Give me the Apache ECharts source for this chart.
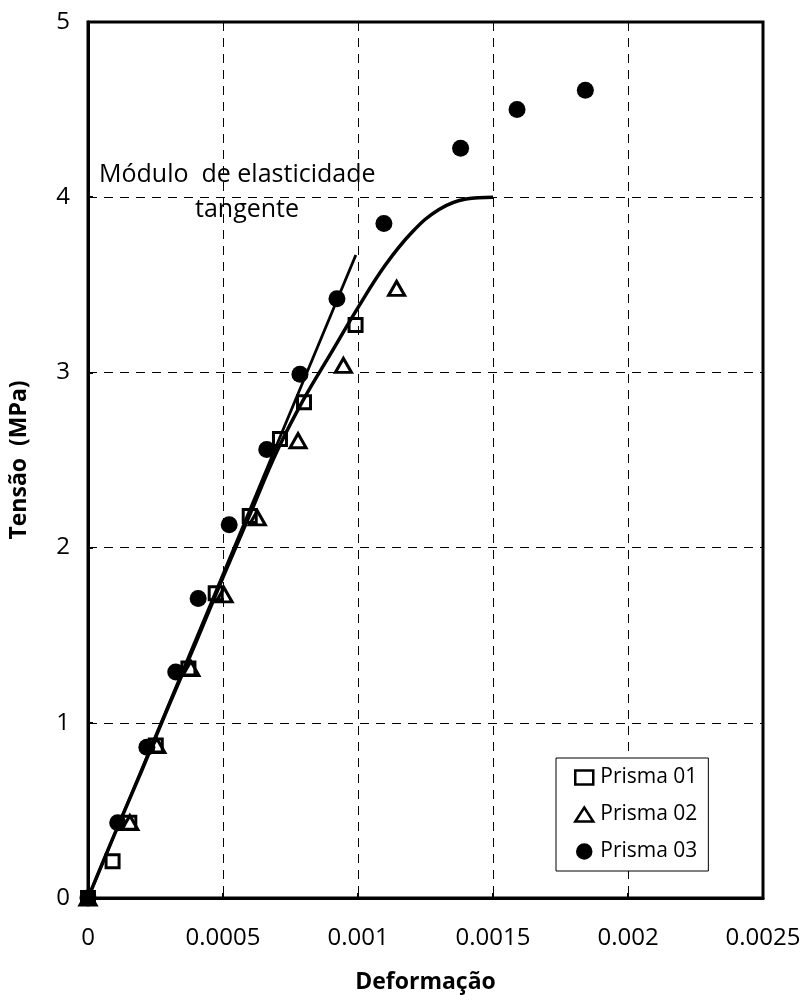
<!DOCTYPE html>
<html>
<head>
<meta charset="utf-8">
<script src="https://cdn.jsdelivr.net/npm/echarts@6/dist/echarts.min.js"></script>
<style>
html,body{margin:0;padding:0;background:#fff;}
#chart{width:807px;height:1007px;}
</style>
</head>
<body>
<div id="chart"></div>
<script>
// ---- data ----
const xTickLabels = ['0', '0.0005', '0.001', '0.0015', '0.002', '0.0025'];
const yTickLabels = ['0', '1', '2', '3', '4', '5'];

const prisma01X = [0, 0.000091, 0.000153, 0.000251, 0.000372, 0.000473, 0.000599, 0.000711, 0.000800, 0.000991];
const prisma01Y = [0, 0.21, 0.43, 0.87, 1.31, 1.74, 2.18, 2.62, 2.83, 3.27];

const prisma02X = [0, 0.000155, 0.000255, 0.000381, 0.000504, 0.000627, 0.000778, 0.000946, 0.001143];
const prisma02Y = [0, 0.43, 0.87, 1.31, 1.73, 2.17, 2.61, 3.04, 3.48];

const prisma03X = [0, 0.000110, 0.000218, 0.000325, 0.000408, 0.000523, 0.000662, 0.000785, 0.000922, 0.001096, 0.001380, 0.001589, 0.001842];
const prisma03Y = [0, 0.43, 0.86, 1.29, 1.71, 2.13, 2.56, 2.99, 3.42, 3.85, 4.28, 4.50, 4.61];

const curveX = [0, 0.0001, 0.0002, 0.0003, 0.0004, 0.0005, 0.0006, 0.0007, 0.0008, 0.0009, 0.0010, 0.0011, 0.0012, 0.0013, 0.0014, 0.0015];
const curveY = [0, 0.37, 0.73, 1.10, 1.46, 1.83, 2.19, 2.55, 2.85, 3.11, 3.37, 3.61, 3.80, 3.93, 3.99, 4.00];

const tangentX = [0, 0.000992];
const tangentY = [0, 3.67];

const seriesNames = ['Prisma 01', 'Prisma 02', 'Prisma 03'];
const annotation1 = 'Módulo  de elasticidade';
const annotation2 = 'tangente';
const xName = 'Deformação';
const yName = 'Tensão  (MPa)';

// ---- build ----
const zip = (a, b) => a.map((v, i) => [v, b[i]]);
const FONT = 'Open Sans';

const chart = echarts.init(document.getElementById('chart'), null, {renderer: 'canvas'});
const option = {
  backgroundColor: '#fff',
  animation: false,
  grid: {
    left: 87, right: 44, top: 22, bottom: 109,
    show: true, borderColor: '#000', borderWidth: 3, backgroundColor: 'transparent'
  },
  xAxis: {
    type: 'value', min: 0, max: 0.0025, interval: 0.0005,
    name: xName, nameLocation: 'middle', nameGap: 73,
    nameTextStyle: {fontFamily: FONT, fontWeight: 'bold', fontSize: 23, color: '#000'},
    axisLine: {show: true, lineStyle: {color: '#000', width: 3}},
    axisTick: {show: true, inside: true, length: 5, lineStyle: {color: '#000', width: 2}},
    axisLabel: {
      margin: 28, fontFamily: FONT, fontSize: 24, color: '#000',
      formatter: v => xTickLabels[Math.round(v / 0.0005)]
    },
    splitLine: {show: true, lineStyle: {color: '#000', width: 1, type: [9, 7]}}
  },
  yAxis: {
    type: 'value', min: 0, max: 5, interval: 1,
    name: yName, nameLocation: 'middle', nameGap: 57,
    nameTextStyle: {fontFamily: FONT, fontWeight: 'bold', fontSize: 23, color: '#000'},
    axisLine: {show: true, lineStyle: {color: '#000', width: 3}},
    axisTick: {show: true, inside: true, length: 5, lineStyle: {color: '#000', width: 2}},
    axisLabel: {
      margin: 18, fontFamily: FONT, fontSize: 24, color: '#000',
      formatter: v => yTickLabels[Math.round(v)]
    },
    splitLine: {show: true, lineStyle: {color: '#000', width: 1, type: [9, 7]}}
  },
  legend: {
    data: seriesNames,
    orient: 'vertical',
    left: 556, top: 758,
    itemWidth: 18, itemHeight: 14, itemGap: 16,
    padding: [9, 11, 9, 18],
    borderColor: '#000', borderWidth: 1, backgroundColor: '#fff',
    itemStyle: {borderColor: '#000', borderWidth: 2.5},
    textStyle: {fontFamily: FONT, fontSize: 21, color: '#000', padding: [0, 0, 0, 2]}
  },
  graphic: [
    {type: 'text', left: 99, top: 162, z: 100,
     style: {text: annotation1, fontFamily: FONT, fontSize: 25, fill: '#000'}},
    {type: 'text', left: 195, top: 197, z: 100,
     style: {text: annotation2, fontFamily: FONT, fontSize: 25, fill: '#000'}}
  ],
  series: [
    {
      name: 'curve', type: 'line', data: zip(curveX, curveY), smooth: 0.4,
      showSymbol: false, symbol: 'none', silent: true,
      lineStyle: {color: '#000', width: 3.5}, z: 2
    },
    {
      name: 'tangent', type: 'line', data: zip(tangentX, tangentY),
      showSymbol: false, symbol: 'none', silent: true,
      lineStyle: {color: '#000', width: 2.8}, z: 2
    },
    {
      name: seriesNames[2], type: 'scatter', data: zip(prisma03X, prisma03Y),
      symbol: 'circle', symbolSize: 17,
      itemStyle: {color: '#000', borderColor: '#000', borderWidth: 0, opacity: 1}, z: 3
    },
    {
      name: seriesNames[0], type: 'scatter', data: zip(prisma01X, prisma01Y),
      symbol: 'rect', symbolSize: 13,
      itemStyle: {color: 'rgba(255,255,255,0)', borderColor: '#000', borderWidth: 3, opacity: 1}, z: 4
    },
    {
      name: seriesNames[1], type: 'scatter', data: zip(prisma02X, prisma02Y),
      symbol: 'triangle', symbolSize: [16, 14],
      itemStyle: {color: 'rgba(255,255,255,0)', borderColor: '#000', borderWidth: 3, opacity: 1}, z: 4
    }
  ]
};
chart.setOption(option);
</script>
</body>
</html>
